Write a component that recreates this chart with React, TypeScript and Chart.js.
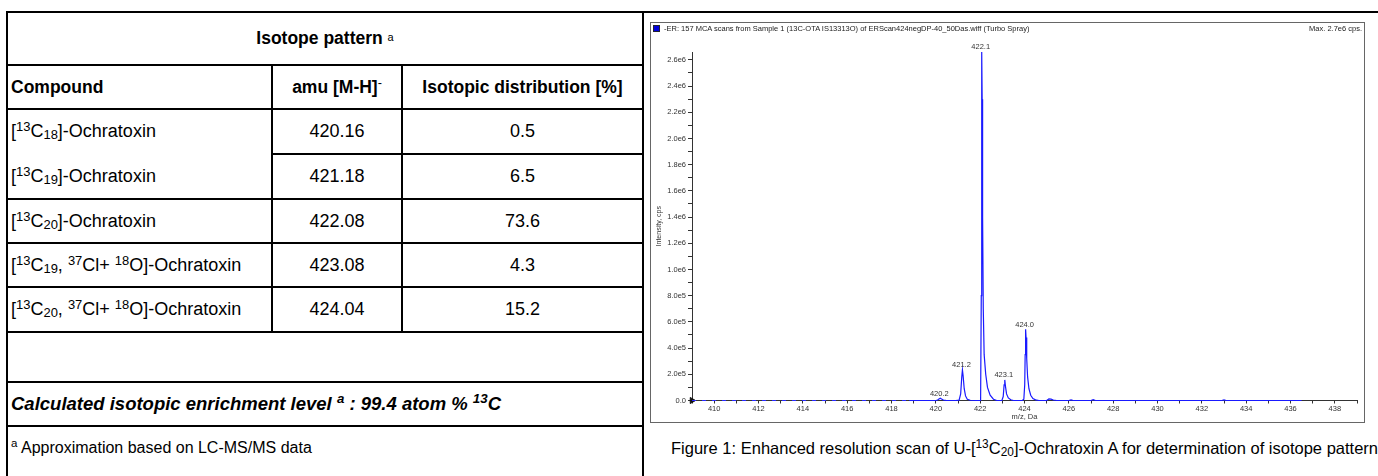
import React, { useEffect, useRef } from "react";
import { Chart, registerables } from "chart.js";
Chart.register(...registerables);

// ---------------- data ----------------
const compoundCarbons = ["18", "19", "20", "19", "20"];
const compoundHeavyLabel = [false, false, false, true, true];
const amuValues = ["420.16", "421.18", "422.08", "423.08", "424.04"];
const distributionValues = ["0.5", "6.5", "73.6", "4.3", "15.2"];

// profile spectrum (m/z, Da / intensity, cps)
const spectrumMz = [
  418.8, 419.5, 420.0, 420.08, 420.14, 420.2, 420.26, 420.34, 420.45, 420.9,
  421.05, 421.12, 421.17, 421.2, 421.23, 421.28, 421.34, 421.42, 421.55, 421.8,
  422.02, 422.05, 422.07, 422.09, 422.11, 422.14, 422.18, 422.25, 422.33, 422.45,
  422.6, 422.75, 422.98, 423.04, 423.08, 423.11, 423.14, 423.19, 423.27, 423.38,
  423.5, 423.9, 423.97, 424.01, 424.03, 424.05, 424.07, 424.1, 424.14, 424.2,
  424.28, 424.38, 424.5, 424.65, 425.0, 425.1, 425.2, 425.3, 425.45, 426.0,
  426.1, 426.2, 427.0, 427.1, 427.2, 429.0, 432.9, 433.0, 433.1, 436.5,
];
const spectrumIntensity = [
  0, 0, 0, 4000, 11000, 17000, 11000, 4000, 1000, 0,
  3000, 50000, 180000, 233000, 190000, 90000, 35000, 10000, 2000, 0,
  0, 800000, 2660000, 2300000, 1400000, 700000, 350000, 200000, 100000, 40000,
  10000, 0, 1000, 30000, 120000, 157000, 110000, 50000, 20000, 6000,
  0, 0, 10000, 120000, 350000, 544000, 480000, 320000, 180000, 90000,
  40000, 15000, 5000, 0, 0, 12000, 10000, 4000, 0, 0,
  5000, 0, 0, 7000, 0, 0, 0, 4000, 0, 0,
];
const sparseBaselineMz = [409, 418.8];
const sparseBaselineIntensity = [0, 0];

const peakLabelText = ["420.2", "421.2", "422.1", "423.1", "424.0"];
const peakLabelMz = [420.2, 421.2, 422.07, 423.11, 424.05];
const peakLabelIntensity = [17000, 233000, 2660000, 157000, 544000];

// axis ticks: labelled every second value
const yTickValues = [
  0, 100000, 200000, 300000, 400000, 500000, 600000, 700000, 800000, 900000,
  1000000, 1100000, 1200000, 1300000, 1400000, 1500000, 1600000, 1700000, 1800000,
  1900000, 2000000, 2100000, 2200000, 2300000, 2400000, 2500000, 2600000,
];
const xTickValues = [
  409, 410, 411, 412, 413, 414, 415, 416, 417, 418, 419, 420, 421, 422, 423, 424,
  425, 426, 427, 428, 429, 430, 431, 432, 433, 434, 435, 436, 437, 438, 439,
];

const FONT = "'Liberation Sans', Arial, Helvetica, sans-serif";

function fmtY(v: number): string {
  if (v === 0) return "0.0";
  return v.toExponential(1).replace("e+", "e");
}

const peakLabelPlugin = {
  id: "peakLabels",
  afterDatasetsDraw(chart: any) {
    const { ctx, scales } = chart;
    ctx.save();
    ctx.font = `7.5px ${FONT}`;
    ctx.fillStyle = "#333";
    ctx.textAlign = "center";
    ctx.textBaseline = "bottom";
    peakLabelText.forEach((t, i) => {
      const x = scales.x.getPixelForValue(peakLabelMz[i]);
      const y = scales.y.getPixelForValue(peakLabelIntensity[i]);
      ctx.fillText(t, x - 1, y - 1);
    });
    ctx.restore();
  },
};

function SpectrumChart() {
  const ref = useRef<HTMLCanvasElement | null>(null);
  useEffect(() => {
    if (!ref.current) return;
    const spectrum = spectrumMz.map((x, i) => ({ x, y: spectrumIntensity[i] }));
    const sparse = sparseBaselineMz.map((x, i) => ({ x, y: sparseBaselineIntensity[i] }));
    const chart = new Chart(ref.current, {
      type: "line",
      data: {
        datasets: [
          {
            data: spectrum,
            borderColor: "rgb(25,25,255)",
            borderWidth: 1.2,
            pointRadius: 0,
            tension: 0,
            clip: false as any,
          },
          {
            data: sparse,
            borderColor: "rgb(40,40,255)",
            borderWidth: 1.2,
            borderDash: [4, 6],
            pointRadius: 0,
            clip: false as any,
          },
          {
            data: [{ x: sparseBaselineMz[0], y: 0 }],
            showLine: false,
            pointStyle: "triangle",
            rotation: 90,
            pointRadius: 3.5,
            backgroundColor: "#111",
            borderColor: "#111",
            clip: false as any,
          },
        ],
      },
      options: {
        animation: false,
        responsive: false,
        layout: { padding: { top: 29, right: 7, left: 0, bottom: 0 } },
        plugins: { legend: { display: false }, tooltip: { enabled: false } },
        scales: {
          x: {
            type: "linear",
            min: 409,
            max: 439,
            border: { display: true, color: "#333", width: 1 },
            grid: { display: true, drawOnChartArea: false, tickLength: 3, color: "#333" },
            afterBuildTicks: (s: any) => {
              s.ticks = xTickValues.map((v) => ({ value: v }));
            },
            ticks: {
              autoSkip: false,
              maxRotation: 0,
              padding: 1,
              color: "#333",
              font: { size: 7.5, family: FONT },
              callback: (v: any) => (Math.round(v) % 2 === 0 ? String(Math.round(v)) : ""),
            },
            title: {
              display: true,
              text: "m/z, Da",
              color: "#333",
              font: { size: 7.5, family: FONT },
              padding: { top: 0, bottom: 1 },
            },
            afterFit: (s: any) => {
              s.height = 21.5;
            },
          },
          y: {
            type: "linear",
            min: 0,
            max: 2660000,
            border: { display: true, color: "#333", width: 1 },
            grid: { display: true, drawOnChartArea: false, tickLength: 4, color: "#333" },
            afterBuildTicks: (s: any) => {
              s.ticks = yTickValues.map((v) => ({ value: v }));
            },
            ticks: {
              autoSkip: false,
              padding: 2,
              color: "#333",
              font: { size: 7.5, family: FONT },
              callback: (v: any) => (Math.round(v / 100000) % 2 === 0 ? fmtY(v) : ""),
            },
            title: {
              display: true,
              text: "Intensity, cps",
              color: "#333",
              font: { size: 7, family: FONT },
              padding: { top: 4, bottom: 0 },
            },
            afterFit: (s: any) => {
              s.width = 41;
            },
          },
        },
      },
      plugins: [peakLabelPlugin],
    });
    return () => chart.destroy();
  }, []);
  return <canvas ref={ref} width={713} height={399} style={{ display: "block" }} />;
}

const supS: React.CSSProperties = { fontSize: "0.72em", verticalAlign: "0.5em", lineHeight: 0 };
const subS: React.CSSProperties = { fontSize: "0.72em", verticalAlign: "-0.15em", lineHeight: 0 };

function CompoundName({ c, heavy }: { c: string; heavy: boolean }) {
  return (
    <span>
      [<span style={supS}>13</span>C<span style={subS}>{c}</span>
      {heavy && (
        <>
          , <span style={supS}>37</span>Cl+ <span style={supS}>18</span>O
        </>
      )}
      ]-Ochratoxin
    </span>
  );
}

const LINE = "#000";
function HLine({ x1, x2, y }: { x1: number; x2: number; y: number }) {
  return <div style={{ position: "absolute", left: x1, top: y - 1, width: x2 - x1, height: 2, background: LINE }} />;
}
function VLine({ x, y1, y2 }: { x: number; y1: number; y2: number }) {
  return <div style={{ position: "absolute", left: x - 1, top: y1, width: 2, height: y2 - y1, background: LINE }} />;
}

function Cell({
  x1, x2, y1, y2, align, children, style,
}: {
  x1: number; x2: number; y1: number; y2: number; align: "left" | "center";
  children: React.ReactNode; style?: React.CSSProperties;
}) {
  return (
    <div
      style={{
        position: "absolute",
        left: x1,
        top: y1,
        width: x2 - x1,
        height: y2 - y1,
        display: "flex",
        alignItems: "center",
        justifyContent: align === "left" ? "flex-start" : "center",
        paddingLeft: align === "left" ? 4 : 0,
        boxSizing: "border-box",
        whiteSpace: "nowrap",
        ...style,
      }}
    >
      {children}
    </div>
  );
}

export default function App() {
  const L = 7;
  const C1 = 272;
  const C2 = 402;
  const D = 643;
  const rowY = [12, 65, 109, 154, 199, 243, 287, 332, 382, 426];
  const dataRowTops = [109, 154, 199, 243, 287];
  const dataRowBottoms = [154, 199, 243, 287, 332];
  return (
    <div
      style={{
        position: "absolute",
        left: 0,
        top: 0,
        width: 1378,
        height: 476,
        background: "#fff",
        overflow: "hidden",
        fontFamily: FONT,
        fontSize: 18,
        color: "#000",
      }}
    >
      {/* table lines */}
      <HLine x1={L - 1} x2={1378} y={rowY[0]} />
      <VLine x={L} y1={rowY[0] - 1} y2={476} />
      <VLine x={D} y1={rowY[0] - 1} y2={476} />
      {rowY.slice(1).map((y, i) =>
        y === 154 ? <HLine key={i} x1={C1} x2={D} y={y} /> : <HLine key={i} x1={L} x2={D} y={y} />
      )}
      <VLine x={C1} y1={65} y2={332} />
      <VLine x={C2} y1={65} y2={332} />

      {/* header */}
      <Cell x1={L} x2={D} y1={12} y2={65} align="center" style={{ fontWeight: "bold", fontSize: 17.5 }}>
        Isotope pattern&nbsp;<span style={{ fontSize: 11, fontWeight: "normal", position: "relative", top: -2 }}>a</span>
      </Cell>
      <Cell x1={L} x2={C1} y1={65} y2={109} align="left" style={{ fontWeight: "bold", fontSize: 17.5 }}>
        Compound
      </Cell>
      <Cell x1={C1} x2={C2} y1={65} y2={109} align="center" style={{ fontWeight: "bold", fontSize: 17.5 }}>
        <span>
          amu [M-H]<span style={{ ...supS, fontWeight: "normal" }}>-</span>
        </span>
      </Cell>
      <Cell x1={C2} x2={D} y1={65} y2={109} align="center" style={{ fontWeight: "bold", fontSize: 17.5 }}>
        Isotopic distribution [%]
      </Cell>

      {/* data rows */}
      {compoundCarbons.map((c, i) => (
        <React.Fragment key={i}>
          <Cell x1={L} x2={C1} y1={dataRowTops[i]} y2={dataRowBottoms[i]} align="left">
            <CompoundName c={c} heavy={compoundHeavyLabel[i]} />
          </Cell>
          <Cell x1={C1} x2={C2} y1={dataRowTops[i]} y2={dataRowBottoms[i]} align="center">
            {amuValues[i]}
          </Cell>
          <Cell x1={C2} x2={D} y1={dataRowTops[i]} y2={dataRowBottoms[i]} align="center">
            {distributionValues[i]}
          </Cell>
        </React.Fragment>
      ))}

      <Cell x1={L} x2={D} y1={382} y2={426} align="left" style={{ fontWeight: "bold", fontStyle: "italic", fontSize: 18.5 }}>
        <span>
          Calculated isotopic enrichment level <span style={supS}>a</span> : 99.4 atom % <span style={supS}>13</span>C
        </span>
      </Cell>
      <Cell x1={L} x2={D} y1={426} y2={470} align="left" style={{ fontSize: 16 }}>
        <span>
          <span style={supS}>a</span> Approximation based on LC-MS/MS data
        </span>
      </Cell>

      {/* spectrum panel */}
      <div
        style={{
          position: "absolute",
          left: 650,
          top: 22,
          width: 715,
          height: 401,
          border: "1px solid #666",
          boxSizing: "border-box",
        }}
      />
      <div style={{ position: "absolute", left: 651, top: 23 }}>
        <SpectrumChart />
      </div>
      <div
        style={{
          position: "absolute",
          left: 653,
          top: 25,
          width: 5,
          height: 5,
          background: "#0000dd",
          border: "1px solid #223",
        }}
      />
      <div style={{ position: "absolute", left: 664, top: 24, fontSize: 7.5, color: "#222", whiteSpace: "nowrap" }}>
        -ER: 157 MCA scans from Sample 1 (13C-OTA IS13313O) of ERScan424negDP-40_50Das.wiff (Turbo Spray)
      </div>
      <div style={{ position: "absolute", right: 1378 - 1362, top: 24, fontSize: 7.5, color: "#222", whiteSpace: "nowrap" }}>
        Max. 2.7e6 cps.
      </div>

      {/* caption */}
      <div style={{ position: "absolute", left: 671, top: 438, fontSize: 16.5, whiteSpace: "nowrap", lineHeight: "20px" }}>
        Figure 1: Enhanced resolution scan of U-[<span style={supS}>13</span>C<span style={subS}>20</span>]-Ochratoxin A for
        determination of isotope pattern
      </div>
    </div>
  );
}
